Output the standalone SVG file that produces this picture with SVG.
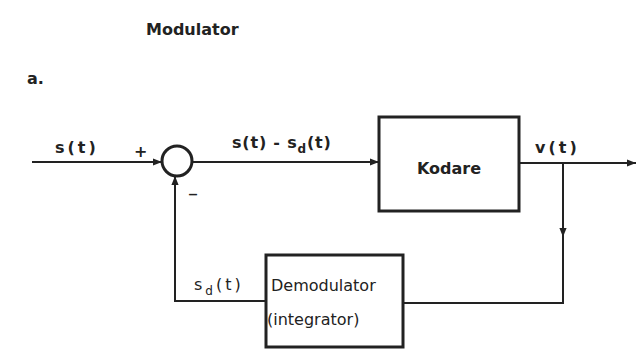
<svg xmlns="http://www.w3.org/2000/svg" width="637" height="358" viewBox="0 0 637 358">
<defs>
<style>
.ln{fill:none;stroke:#222;stroke-width:2}
.box{fill:none;stroke:#222;stroke-width:3}
.t{font-family:"DejaVu Sans","Liberation Sans",sans-serif;fill:#222;font-size:16px}
.b{font-weight:bold}
.sp{letter-spacing:3px}
</style>
<marker id="ahb" viewBox="0 0 10 10" refX="10" refY="5" markerWidth="9" markerHeight="9" orient="auto" markerUnits="userSpaceOnUse">
<path d="M0,1 L10,5 L0,9 z" fill="#222"/>
</marker>
</defs>
<rect width="637" height="358" fill="#fff"/>
<text class="t b" x="146" y="35" font-size="15">Modulator</text>
<text class="t b" x="27" y="84" font-size="18">a.</text>
<g id="summer">
<circle cx="177" cy="161" r="15" fill="none" stroke="#222" stroke-width="3"/>
<text class="t b" x="134" y="157">+</text>
<text class="t b" x="189" y="192">_</text>
</g>
<g id="kodare">
<rect class="box" x="379" y="117" width="140" height="94"/>
<text class="t b" x="449" y="174" text-anchor="middle" font-size="16.5">Kodare</text>
</g>
<g id="demodulator">
<rect class="box" x="266" y="255" width="137" height="92"/>
<text class="t" x="271" y="291" font-size="16">Demodulator</text>
<text class="t" x="267" y="325" font-size="16">(integrator)</text>
</g>
<g id="connectors">
<path class="ln" d="M32,162 H162" marker-end="url(#ahb)"/>
<path class="ln" d="M192,162 H379" marker-end="url(#ahb)"/>
<path class="ln" d="M519,163 H636" marker-end="url(#ahb)"/>
<path class="ln" d="M563,163 V237" marker-end="url(#ahb)"/>
<path class="ln" d="M563,230 V303 H403"/>
<path class="ln" d="M266,301 H175 V176" marker-end="url(#ahb)"/>
</g>
<g id="labels">
<text class="t b sp" x="55" y="153" font-size="15">s(t)</text>
<text class="t b" x="232" y="148" font-size="15" letter-spacing="0.8">s(t) - s<tspan dy="5" font-size="12">d</tspan><tspan dy="-5">(t)</tspan></text>
<text class="t b sp" x="535" y="153" font-size="15">v(t)</text>
<text class="t sp" x="194" y="290" font-size="16" letter-spacing="2">s<tspan dy="5" font-size="12">d</tspan><tspan dy="-5">(t)</tspan></text>
</g>
</svg>
